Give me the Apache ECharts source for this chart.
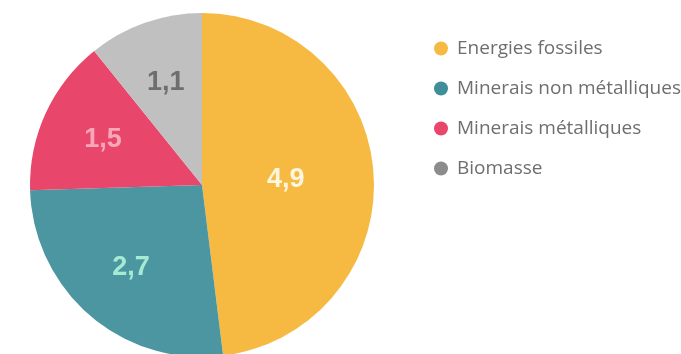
<!DOCTYPE html>
<html><head><meta charset="utf-8">
<script src="https://cdn.jsdelivr.net/npm/echarts@6/dist/echarts.min.js"></script>
<style>html,body{margin:0;padding:0;background:#fff}#c{width:681px;height:354px}</style>
</head><body><div id="c"></div>
<script>
const categories = ["Energies fossiles", "Minerais non métalliques", "Minerais métalliques", "Biomasse"];
const values = [4.9, 2.7, 1.5, 1.1];
const labels = ["4,9", "2,7", "1,5", "1,1"];
const sliceColors = ["#F6BA42", "#4B96A1", "#E8466B", "#C0C0C0"];
const legendColors = ["#F6BA42", "#3F8E9A", "#E8466B", "#8C8C8C"];
const labelColors = ["#FFF6DF", "#A6EAD3", "#F7A7B7", "#6E6E6E"];

const chart = echarts.init(document.getElementById('c'), null, {renderer: 'canvas'});
const labelFont = {fontFamily: '"Liberation Sans",Arial,sans-serif', fontWeight: 'bold', fontSize: 27};
const center = [202, 185];
function labelSeries(radius, showFn) {
  return {
    type: 'pie', center: center, radius: [0, radius], startAngle: 90, clockwise: true,
    silent: true, legendHoverLink: false, z: 5,
    itemStyle: {color: 'rgba(0,0,0,0)'},
    label: {show: true, position: 'inside', formatter: p => labels[p.dataIndex], ...labelFont},
    labelLine: {show: false},
    data: values.map((v, i) => ({name: categories[i] + ' #' + radius, value: v,
      label: {show: showFn(i), color: labelColors[i]}}))
  };
}
chart.setOption({
  animation: false,
  legend: {
    orient: 'vertical', left: 429, top: 34, icon: 'circle',
    itemWidth: 22, itemHeight: 14, itemGap: 21,
    textStyle: {color: '#6e6e6e', fontSize: 19, fontFamily: '"Open Sans","Liberation Sans",Arial,sans-serif'},
    data: categories.map((n, i) => ({name: n, itemStyle: {color: legendColors[i]}}))
  },
  series: [
    {
      type: 'pie', center: center, radius: [0, 172], startAngle: 90, clockwise: true,
      silent: true,
      label: {show: false},
      labelLine: {show: false},
      data: values.map((v, i) => ({name: categories[i], value: v, itemStyle: {color: sliceColors[i]}}))
    },
    labelSeries(162, i => i === 0),
    labelSeries(212, i => i !== 0)
  ]
});
</script></body></html>
